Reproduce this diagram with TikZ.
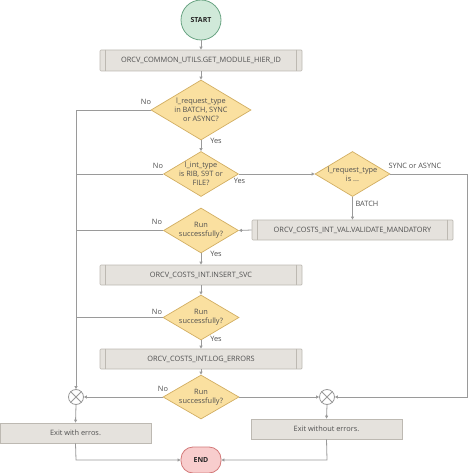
\documentclass[tikz,border=0pt]{standalone}
\usepackage{fontspec}
\setmainfont{Open Sans}
\usetikzlibrary{shapes.geometric,arrows.meta}
\definecolor{linec}{HTML}{9A9A9A}
\definecolor{txtc}{HTML}{505050}
\definecolor{boxfill}{HTML}{E5E2DD}
\definecolor{boxline}{HTML}{BDB9B2}
\definecolor{diafill}{HTML}{FAE0A0}
\definecolor{dialine}{HTML}{D2AE62}
\definecolor{startfill}{HTML}{D0E9D9}
\definecolor{startline}{HTML}{6AA483}
\definecolor{endfill}{HTML}{F8CDCD}
\definecolor{endline}{HTML}{D37878}
\tikzset{
  conn/.style={draw=linec, line width=0.8bp},
  arr/.style={conn, -{Triangle[length=3bp,width=3bp]}},
  txt/.style={font=\fontsize{7.4}{9}\selectfont, text=txtc, align=center},
  lbl/.style={font=\fontsize{7.4}{9}\selectfont, text=txtc, inner sep=0pt},
  dia/.style={shape=diamond, draw=dialine, fill=diafill, line width=0.7bp, inner sep=0pt},
  sub/.style={draw=boxline, fill=boxfill, line width=0.7bp, rounded corners=1bp, inner sep=0pt, txt},
  exitbox/.style={draw=boxline, fill=boxfill, line width=0.7bp, inner sep=0pt, txt},
  xcirc/.style={circle, draw=linec, fill=white, line width=0.8bp, minimum size=15bp, inner sep=0pt},
}
\newcommand{\subbars}[1]{%
  \draw[boxline, line width=0.6bp] ([xshift=6bp]#1.north west) -- ([xshift=6bp]#1.south west);
  \draw[boxline, line width=0.6bp] ([xshift=-6bp]#1.north east) -- ([xshift=-6bp]#1.south east);}
\begin{document}
\begin{tikzpicture}[x=1bp,y=-1bp]
\useasboundingbox (0,0) rectangle (472,473);
% terminals
\node[circle, draw=startline, fill=startfill, line width=0.8bp, minimum size=40bp, inner sep=0pt,
      font=\bfseries\fontsize{7}{8}\selectfont, text=black!85] (start) at (201,20) {START};
\node[draw=endline, fill=endfill, line width=0.8bp, rounded corners=12bp, minimum width=40bp,
      minimum height=26bp, inner sep=0pt, font=\bfseries\fontsize{7}{8}\selectfont, text=black!85] (end) at (201,460) {END};
% subroutine boxes
\node[sub, minimum width=202bp, minimum height=21bp] (b1) at (201,60.5) {ORCV\_COMMON\_UTILS.GET\_MODULE\_HIER\_ID};
\node[sub, minimum width=201bp, minimum height=20bp] (bval) at (352.5,230) {ORCV\_COSTS\_INT\_VAL.VALIDATE\_MANDATORY};
\node[sub, minimum width=202bp, minimum height=20bp] (bins) at (201,275) {ORCV\_COSTS\_INT.INSERT\_SVC};
\node[sub, minimum width=202bp, minimum height=20bp] (blog) at (201,359) {ORCV\_COSTS\_INT.LOG\_ERRORS};
\subbars{b1}\subbars{bval}\subbars{bins}\subbars{blog}
% exit boxes
\node[exitbox, minimum width=151bp, minimum height=20bp] (ex1) at (75.5,433) {Exit with erros.};
\node[exitbox, minimum width=151bp, minimum height=20bp] (ex2) at (326.5,429) {Exit without errors.};
% decisions
\node[dia, minimum width=100bp, minimum height=60bp,
      label={[txt]center:{l\_request\_type\\in BATCH, SYNC\\or ASYNC?}}] (d1) at (201,110) {};
\node[dia, minimum width=75bp, minimum height=45bp,
      label={[txt]center:{l\_int\_type\\is RIB, S9T or\\FILE?}}] (d2) at (201,174) {};
\node[dia, minimum width=75bp, minimum height=45bp,
      label={[txt]center:{l\_request\_type\\is ...}}] (d3) at (352.5,174) {};
\node[dia, minimum width=75bp, minimum height=45bp,
      label={[txt]center:{Run\\successfully?}}] (d4) at (201,230.5) {};
\node[dia, minimum width=76bp, minimum height=45bp,
      label={[txt]center:{Run\\successfully?}}] (d5) at (201,317.5) {};
\node[dia, minimum width=76bp, minimum height=44bp,
      label={[txt]center:{Run\\successfully?}}] (d6) at (201,397) {};
% merge circles
\node[xcirc] (x1) at (76,397) {};
\node[xcirc] (x2) at (327,397) {};
\draw[linec, line width=0.8bp] (x1.north east) -- (x1.south west) (x1.north west) -- (x1.south east);
\draw[linec, line width=0.8bp] (x2.north east) -- (x2.south west) (x2.north west) -- (x2.south east);
\coordinate (lt) at (76,110);
\coordinate (rt) at (467,174);
\coordinate (rb) at (467,397);
\coordinate (e1c) at (76,460);
\coordinate (e2c) at (327,460);
% connectors
\draw[arr] (start) -- (b1);
\draw[arr] (b1) -- (d1);
\draw[arr] (d1) -- (d2);
\draw[arr] (d1.west) -- (lt) -- (x1.north);
\draw[conn] (d2.west) -- (76,174);
\draw[conn] (d4.west) -- (76,230.5);
\draw[conn] (d5.west) -- (76,317.5);
\draw[arr] (d2.east) -- (d3.west);
\draw[arr] (d3.south) -- (bval.north);
\draw[arr] (d3.east) -- (rt) -- (rb) -- (x2.east);
\draw[arr] (bval.west) -- (d4.east);
\draw[arr] (d4.south) -- (bins.north);
\draw[arr] (bins.south) -- (d5.north);
\draw[arr] (d5.south) -- (blog.north);
\draw[arr] (blog.south) -- (d6.north);
\draw[arr] (d6.west) -- (x1.east);
\draw[arr] (d6.east) -- (x2.west);
\draw[arr] (x1.south) -- (ex1.north);
\draw[arr] (x2.south) -- (ex2.north);
\draw[arr] (ex1.south) -- (e1c) -- (end.west);
\draw[arr] (ex2.south) -- (e2c) -- (end.east);
% labels
\node[lbl] (l1) at (146,101.5) {No};
\node[lbl] (l2) at (216,140.5) {Yes};
\node[lbl] (l3) at (158,166) {No};
\node[lbl] (l4) at (239.5,181) {Yes};
\node[lbl] (l5) at (415,166) {SYNC or ASYNC};
\node[lbl] (l6) at (367,204) {BATCH};
\node[lbl] (l7) at (157,222) {No};
\node[lbl] (l8) at (216,254) {Yes};
\node[lbl] (l9) at (157,312) {No};
\node[lbl] (l10) at (216,339) {Yes};
\node[lbl] (l11) at (163,388.5) {No};
\end{tikzpicture}
\end{document}
